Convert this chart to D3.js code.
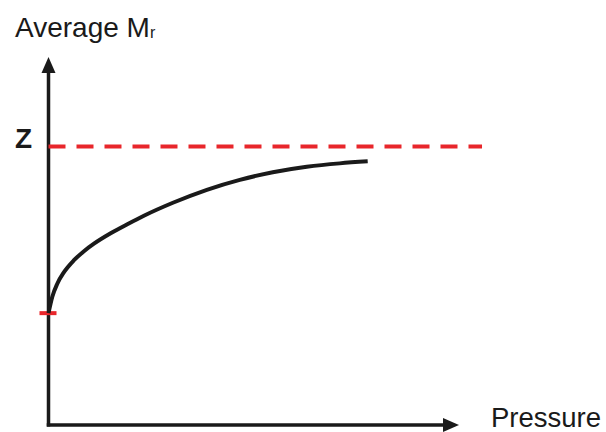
<!DOCTYPE html>
<html><head><meta charset="utf-8">
<script src="https://cdn.jsdelivr.net/npm/d3@7"></script>
<style>html,body{margin:0;padding:0;background:#fff;}svg{display:block;}</style>
</head><body>
<script>
// Data (arbitrary units: pressure, average Mr in multiples of monomer Mr)
const pressure = [0, 0.119, 0.275, 0.484, 0.797, 1.109, 1.422, 1.944, 2.466, 2.984, 3.891, 4.953, 5.984, 7.016, 8.078, 9.109, 9.984];
const averageMr = [1.0, 1.146, 1.263, 1.366, 1.473, 1.554, 1.621, 1.714, 1.795, 1.871, 1.987, 2.103, 2.192, 2.259, 2.308, 2.339, 2.357];
const zValue = 2.49;      // dashed limit "Z"
const monomerValue = 1.0; // red tick on axis
const xMax = 12.84, yMax = 3.29, dashEnd = 13.56;
const yLabel = "Average M", yLabelSub = "r", xLabel = "Pressure", zLabel = "Z";

const W = 606, H = 432;
const svg = d3.select("body").append("svg").attr("width", W).attr("height", H);
const x = d3.scaleLinear().domain([0, xMax]).range([48.5, 459]);
const y = d3.scaleLinear().domain([0, yMax]).range([425, 57]);
const black = "#1a1a1a", red = "#E8262B";

// axes
svg.append("line").attr("x1", x(0)).attr("x2", x(0)).attr("y1", y(0) + 1.5).attr("y2", y(yMax) + 14)
  .attr("stroke", black).attr("stroke-width", 3.5);
svg.append("line").attr("x1", x(0) - 1.75).attr("x2", x(xMax) - 14).attr("y1", y(0)).attr("y2", y(0))
  .attr("stroke", black).attr("stroke-width", 3.5);
// arrowheads
svg.append("path").attr("fill", black)
  .attr("d", `M${x(0)},${y(yMax)} L${x(0) - 7},${y(yMax) + 16} L${x(0) + 7},${y(yMax) + 16} Z`);
svg.append("path").attr("fill", black)
  .attr("d", `M${x(xMax)},${y(0)} L${x(xMax) - 16},${y(0) - 7} L${x(xMax) - 16},${y(0) + 7} Z`);

// dashed Z line
svg.append("line").attr("x1", x(0)).attr("x2", x(dashEnd)).attr("y1", y(zValue)).attr("y2", y(zValue))
  .attr("stroke", red).attr("stroke-width", 4).attr("stroke-dasharray", "17,11");
// red tick at monomer value
svg.append("line").attr("x1", x(0) - 9).attr("x2", x(0) + 8).attr("y1", y(monomerValue)).attr("y2", y(monomerValue))
  .attr("stroke", red).attr("stroke-width", 4);

// curve
const pts = pressure.map((p, i) => [p, averageMr[i]]);
svg.append("path").datum(pts)
  .attr("fill", "none").attr("stroke", black).attr("stroke-width", 4).attr("stroke-linecap", "butt")
  .attr("d", d3.line().x(d => x(d[0])).y(d => y(d[1])).curve(d3.curveMonotoneX));

// labels
const t = svg.append("text").attr("x", 15).attr("y", 37)
  .attr("font-family", "Liberation Sans, Arial, sans-serif").attr("font-size", 28).attr("fill", black);
t.append("tspan").text(yLabel);
t.append("tspan").attr("font-size", 16).attr("dy", 1).text(yLabelSub);
svg.append("text").attr("x", 15).attr("y", 148).attr("font-family", "Liberation Sans, Arial, sans-serif")
  .attr("font-size", 28).attr("font-weight", "bold").attr("fill", black).text(zLabel);
svg.append("text").attr("x", 491).attr("y", 427).attr("font-family", "Liberation Sans, Arial, sans-serif")
  .attr("font-size", 27.5).attr("fill", black).text(xLabel);
</script>
</body></html>
